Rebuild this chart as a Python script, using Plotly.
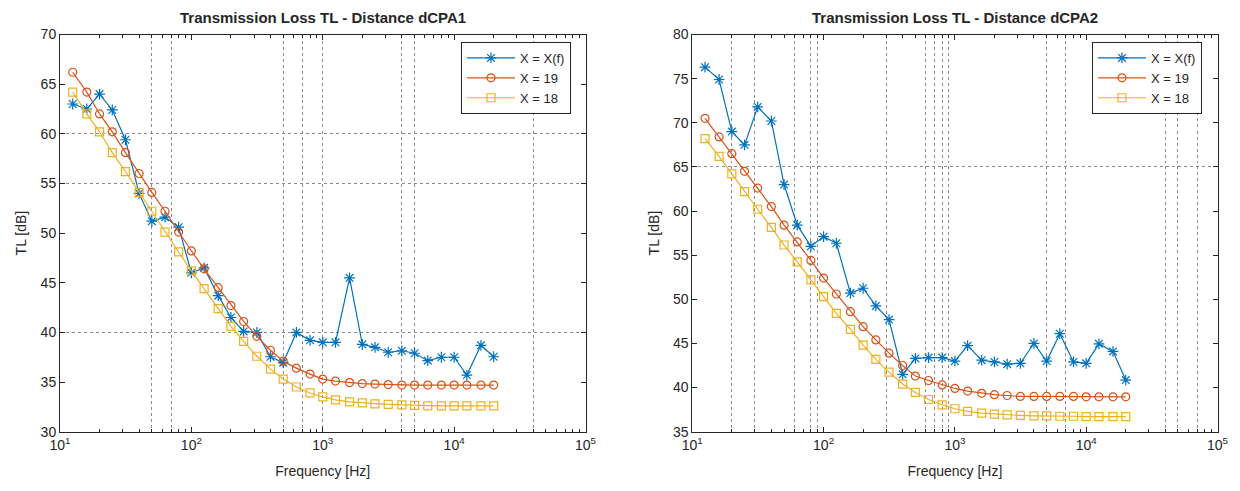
import plotly.graph_objects as go

# ---------------- data ----------------
freq = [12.5, 16, 20, 25, 31.5, 40, 50, 63, 80, 100, 125, 160, 200, 250, 315, 400, 500,
        630, 800, 1000, 1250, 1600, 2000, 2500, 3150, 4000, 5000, 6300, 8000, 10000,
        12500, 16000, 20000]

tl1_xf = [63.0, 62.5, 64.0, 62.4, 59.4, 54.0, 51.2, 51.6, 50.6, 46.0, 46.5, 43.7, 41.5, 40.1,
          40.0, 37.55, 36.95, 40.0, 39.2, 39.0, 39.0, 45.5, 38.8, 38.5, 38.0, 38.15, 37.9,
          37.15, 37.5, 37.5, 35.7, 38.7, 37.55]
tl1_19 = [66.2, 64.2, 62.0, 60.2, 58.1, 56.0, 54.1, 52.2, 50.1, 48.2, 46.4, 44.5, 42.7, 41.1,
          39.6, 38.2, 37.1, 36.4, 35.8, 35.3, 35.1, 34.95, 34.85, 34.8, 34.75, 34.7, 34.7,
          34.7, 34.7, 34.7, 34.7, 34.7, 34.7]
tl1_18 = [64.2, 62.0, 60.2, 58.1, 56.2, 54.1, 52.2, 50.1, 48.1, 46.2, 44.4, 42.4, 40.6, 39.1,
          37.6, 36.3, 35.3, 34.5, 33.9, 33.5, 33.2, 33.0, 32.9, 32.8, 32.75, 32.7, 32.65,
          32.6, 32.6, 32.6, 32.6, 32.6, 32.6]

tl2_xf = [76.3, 74.9, 69.0, 67.5, 71.8, 70.2, 63.0, 58.4, 56.0, 57.1, 56.35, 50.7, 51.25, 49.25,
          47.7, 41.5, 43.3, 43.4, 43.4, 43.0, 44.75, 43.1, 42.9, 42.65, 42.75, 45.0, 43.0,
          46.1, 42.9, 42.75, 44.95, 44.1, 40.85]
tl2_19 = [70.5, 68.4, 66.5, 64.5, 62.6, 60.5, 58.4, 56.5, 54.4, 52.4, 50.6, 48.6, 46.9, 45.4,
          43.9, 42.5, 41.3, 40.8, 40.3, 39.9, 39.6, 39.35, 39.2, 39.1, 39.0, 39.0, 39.0, 39.0,
          39.0, 38.95, 38.95, 38.95, 38.95]
tl2_18 = [68.2, 66.2, 64.2, 62.2, 60.2, 58.15, 56.15, 54.25, 52.2, 50.3, 48.4, 46.6, 44.8, 43.2,
          41.75, 40.4, 39.45, 38.65, 38.05, 37.6, 37.3, 37.1, 37.0, 36.9, 36.85, 36.8, 36.8,
          36.75, 36.75, 36.7, 36.7, 36.7, 36.7]

titles = ["Transmission Loss TL - Distance dCPA1", "Transmission Loss TL - Distance dCPA2"]
series_names = ["X = X(f)", "X = 19", "X = 18"]
x_tickvals = [10, 100, 1000, 10000, 100000]
x_ticktext = ["10<sup>1</sup>", "10<sup>2</sup>", "10<sup>3</sup>", "10<sup>4</sup>", "10<sup>5</sup>"]
minor_x = [m * 10 ** d for d in range(1, 5) for m in range(2, 10)]
grid_x_left = [50, 70, 500, 700, 1000, 4000, 5000, 40000]
grid_x_right = [20, 30, 60, 80, 90, 300, 600, 700, 800, 900, 5000, 7000, 40000, 50000, 70000]
grid_y_left = [40, 55, 60]
grid_y_right = [65]

# ---------------- style ----------------
BLUE = "#0072BD"
ORANGE = "#D95319"
YELLOW = "#EDB120"
AX = "#262626"
GRID = "#8a8a8a"
FONT = "Liberation Sans, Arial, sans-serif"

# page has an 8px body margin: figure sized/positioned so page pixels match
OFF = 8
W, H = 1240 - OFF, 491 - OFF

def fx(px):
    return (px - OFF) / W

def fy(py):
    return 1 - (py - OFF) / H

fig = go.Figure()

def add_series(xa, ya, ys, legend):
    specs = [
        (ys[0], series_names[0], BLUE, "asterisk-open", 9),
        (ys[1], series_names[1], ORANGE, "circle-open", 8),
        (ys[2], series_names[2], YELLOW, "square-open", 8),
    ]
    for y, name, col, sym, size in specs:
        fig.add_trace(go.Scatter(
            x=freq, y=y, name=name, mode="lines+markers",
            line=dict(color=col, width=1.2),
            marker=dict(symbol=sym, size=size, color=col, line=dict(color=col, width=1.2)),
            xaxis=xa, yaxis=ya, legend=legend,
        ))

add_series("x", "y", [tl1_xf, tl1_19, tl1_18], "legend")
add_series("x2", "y2", [tl2_xf, tl2_19, tl2_18], "legend2")

# empty traces so the grid overlay axes are drawn
fig.add_trace(go.Scatter(x=[], y=[], xaxis="x3", yaxis="y", showlegend=False, hoverinfo="skip"))
fig.add_trace(go.Scatter(x=[], y=[], xaxis="x4", yaxis="y2", showlegend=False, hoverinfo="skip"))

dom_left = [fx(60), fx(585.5)]
dom_right = [fx(692.3), fx(1217.5)]
dom_y = [fy(431.7), fy(34.5)]

def xaxis_main(domain, anchor):
    return dict(
        type="log", range=[1, 5], domain=domain, anchor=anchor, automargin=False,
        tickvals=x_tickvals, ticktext=x_ticktext,
        ticks="inside", ticklen=5, tickcolor=AX, tickwidth=1,
        showline=True, linecolor=AX, linewidth=1, mirror="ticks",
        showgrid=False, zeroline=False,
        tickfont=dict(family=FONT, size=14, color=AX),
        title=dict(text="Frequency [Hz]", font=dict(family=FONT, size=14, color=AX), standoff=14),
        minor=dict(tickvals=minor_x, ticks="inside", ticklen=3, tickcolor=AX, showgrid=False),
    )

def xaxis_grid(over, gridvals):
    return dict(
        type="log", range=[1, 5], overlaying=over, anchor="y" if over == "x" else "y2",
        automargin=False,
        tickvals=gridvals, ticks="", showticklabels=False,
        showgrid=True, gridcolor=GRID, griddash="dot", gridwidth=1,
        showline=False, zeroline=False,
    )

def yaxis_main(rng, domain, anchor, gridvals):
    return dict(
        range=rng, domain=domain, anchor=anchor, dtick=5, tick0=0, automargin=False,
        ticks="inside", ticklen=5, tickcolor=AX, tickwidth=1,
        showline=True, linecolor=AX, linewidth=1, mirror="ticks",
        showgrid=False, zeroline=False,
        tickfont=dict(family=FONT, size=14, color=AX),
        title=dict(text="TL [dB]", font=dict(family=FONT, size=14, color=AX), standoff=10),
        minor=dict(tickvals=gridvals, ticks="", showgrid=True, gridcolor=GRID,
                   griddash="dot", gridwidth=1),
    )

legend_common = dict(
    bgcolor="white", bordercolor=AX, borderwidth=1,
    font=dict(family=FONT, size=13, color=AX),
    xanchor="left", yanchor="top", itemwidth=48,
    tracegroupgap=0,
)

fig.update_layout(
    width=W, height=H,
    margin=dict(l=0, r=0, t=0, b=0, autoexpand=False),
    paper_bgcolor="white", plot_bgcolor="white",
    xaxis=xaxis_main(dom_left, "y"),
    xaxis2=xaxis_main(dom_right, "y2"),
    xaxis3=xaxis_grid("x", grid_x_left),
    xaxis4=xaxis_grid("x2", grid_x_right),
    yaxis=yaxis_main([30, 70], dom_y, "x", grid_y_left),
    yaxis2=yaxis_main([35, 80], dom_y, "x2", grid_y_right),
    legend=dict(x=fx(461), y=fy(42), **legend_common),
    legend2=dict(x=fx(1092), y=fy(42), **legend_common),
    showlegend=True,
    annotations=[
        dict(text="<b>" + titles[0] + "</b>", x=sum(dom_left) / 2, y=fy(17),
             xref="paper", yref="paper", xanchor="center", yanchor="middle", showarrow=False,
             font=dict(family=FONT, size=15, color=AX)),
        dict(text="<b>" + titles[1] + "</b>", x=sum(dom_right) / 2, y=fy(17),
             xref="paper", yref="paper", xanchor="center", yanchor="middle", showarrow=False,
             font=dict(family=FONT, size=15, color=AX)),
    ],
)

fig.write_html("out.html")
